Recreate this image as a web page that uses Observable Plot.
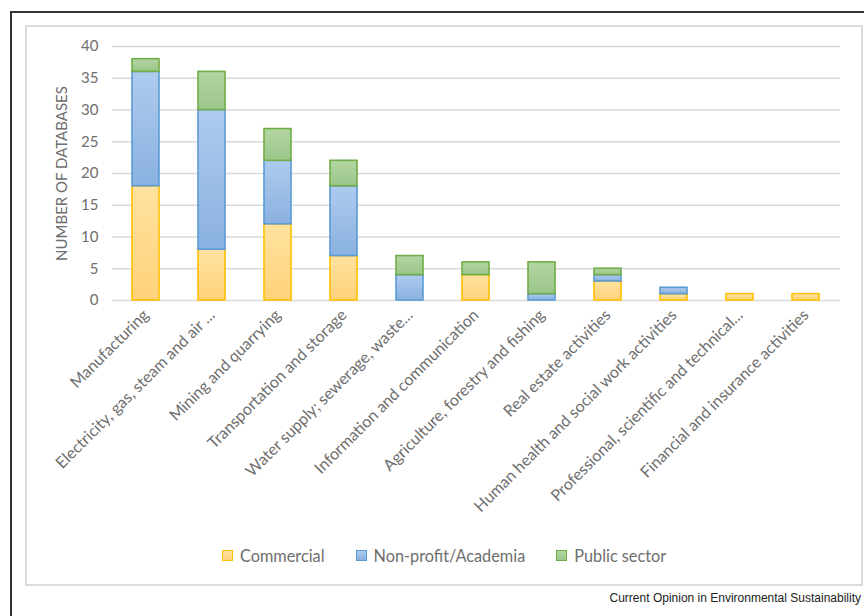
<!DOCTYPE html>
<html>
<head>
<meta charset="utf-8">
<script src="https://cdn.jsdelivr.net/npm/d3@7"></script>
<script src="https://cdn.jsdelivr.net/npm/@observablehq/plot@0.6"></script>
<style>
  html, body { margin: 0; padding: 0; background: #fff; }
  #page { position: relative; width: 864px; height: 616px; overflow: hidden; }
  #outer { position: absolute; left: 10px; top: 11px; width: 900px; height: 700px; border-left: 2px solid #333; border-top: 2px solid #333; }
  #inner { position: absolute; left: 25px; top: 25px; width: 834px; height: 557px; border: 2px solid #dcdcdc; }
  #chart { position: absolute; left: 0; top: 0; }
  #legend { position: absolute; top: 546px; left: 222px; display: flex; align-items: center; font-family: Lato, sans-serif; font-size: 16.3px; color: #6e6e6e; }
  #legend .item { display: flex; align-items: center; margin-right: 31px; }
  #legend .sw { width: 9px; height: 9px; border: 1.5px solid; margin-right: 7px; }
  #caption { position: absolute; right: 3px; top: 591px; font-family: "Liberation Sans", Arial, sans-serif; font-size: 12px; color: #222; }
</style>
</head>
<body>
<div id="page">
  <div id="outer"></div>
  <div id="inner"></div>
  <div id="chart"></div>
  <div id="legend"></div>
  <div id="caption">Current Opinion in Environmental Sustainability</div>
</div>
<script>
const categories = [
  "Manufacturing",
  "Electricity, gas, steam and air ...",
  "Mining and quarrying",
  "Transportation and storage",
  "Water supply; sewerage, waste...",
  "Information and communication",
  "Agriculture, forestry and fishing",
  "Real estate activities",
  "Human health and social work activities",
  "Professional, scientific and technical...",
  "Financial and insurance activities"
];
const series = ["Commercial", "Non-profit/Academia", "Public sector"];
const commercial = [18, 8, 12, 7, 0, 4, 0, 3, 1, 1, 1];
const nonprofit  = [18, 22, 10, 11, 4, 0, 1, 1, 1, 0, 0];
const publicSector = [2, 6, 5, 4, 3, 2, 5, 1, 0, 0, 0];
const yTicks = [0, 5, 10, 15, 20, 25, 30, 35, 40];

const strokeColors = {"Commercial": "#FFC000", "Non-profit/Academia": "#5B9BD5", "Public sector": "#70AD47"};
const gradIds = {"Commercial": "gC", "Non-profit/Academia": "gN", "Public sector": "gP"};
const gradStops = {
  gC: ["#FFE2A0", "#FFD27A"],
  gN: ["#AECBEE", "#8AB1E0"],
  gP: ["#B3D5A2", "#9CC68A"]
};

const values = [commercial, nonprofit, publicSector];
const data = [];
categories.forEach((c, i) => {
  series.forEach((s, j) => {
    if (values[j][i] > 0) data.push({category: c, series: s, value: values[j][i]});
  });
});

const defsMark = () => {
  const g = d3.create("svg:g");
  const defs = g.append("defs");
  for (const [id, [top, bottom]] of Object.entries(gradStops)) {
    const lg = defs.append("linearGradient").attr("id", id).attr("x1", 0).attr("y1", 0).attr("x2", 0).attr("y2", 1);
    lg.append("stop").attr("offset", "0%").attr("stop-color", top);
    lg.append("stop").attr("offset", "100%").attr("stop-color", bottom);
  }
  return g.node();
};

const chart = Plot.plot({
  width: 864,
  height: 616,
  marginLeft: 112,
  marginRight: 24,
  marginTop: 46,
  marginBottom: 316,
  style: {background: "transparent", fontFamily: "Lato, sans-serif", color: "#6e6e6e"},
  x: {domain: categories, paddingInner: 0.59, paddingOuter: 0.3, label: null},
  y: {domain: [0, 40], label: null},
  color: {type: "identity"},
  marks: [
    defsMark,
    Plot.gridY(yTicks, {stroke: "#d9d9d9", strokeOpacity: 1, strokeWidth: 1.6}),
    Plot.axisY(yTicks, {tickSize: 0, tickPadding: 14, fontSize: 15, label: null, fill: "#6e6e6e"}),
    Plot.text(["NUMBER OF DATABASES"], {frameAnchor: "left", textAnchor: "middle", rotate: -90, dx: -50, fontSize: 15, fill: "#6e6e6e"}),
    Plot.axisX({tickSize: 0, tickPadding: 12, tickRotate: -45, fontSize: 16, label: null, fill: "#6e6e6e"}),
    Plot.barY(data, {
      x: "category",
      y: "value",
      z: "series",
      order: series,
      fill: d => `url(#${gradIds[d.series]})`,
      stroke: d => strokeColors[d.series],
      strokeWidth: 1.6
    })
  ]
});
document.getElementById("chart").appendChild(chart);

const legend = document.getElementById("legend");
series.forEach(s => {
  const item = document.createElement("div");
  item.className = "item";
  const sw = document.createElement("div");
  sw.className = "sw";
  const [a, b] = gradStops[gradIds[s]];
  sw.style.background = `linear-gradient(${a}, ${b})`;
  sw.style.borderColor = strokeColors[s];
  const t = document.createElement("span");
  t.textContent = s;
  item.appendChild(sw);
  item.appendChild(t);
  legend.appendChild(item);
});
</script>
</body>
</html>
